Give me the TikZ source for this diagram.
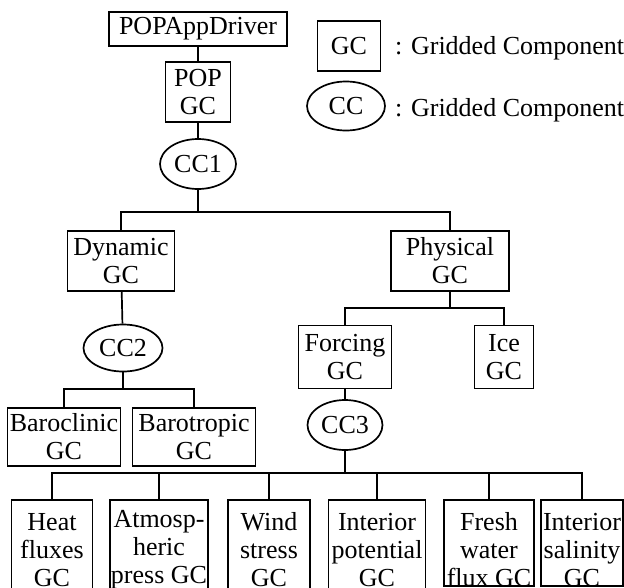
\documentclass[tikz,border=0pt]{standalone}
\usepackage{fontspec}
\setmainfont{Liberation Serif}
\usetikzlibrary{shapes.geometric}
\begin{document}
\begin{tikzpicture}[x=1pt,y=-1pt,
  every node/.style={font=\fontsize{26}{28}\selectfont, align=center, inner sep=0pt},
  gcbox/.style={draw, line width=1.7pt, rectangle},
  ccell/.style={draw, line width=1.7pt, ellipse},
  txtbox/.style={rectangle},
  conn/.style={line width=1.7pt},
  thickconn/.style={line width=2.6pt}]
\useasboundingbox (0,0) rectangle (624,587);
\clip (0,0) rectangle (624,587);

% top
\node[gcbox, minimum width=178pt, minimum height=34pt] (drv) at (198,29) {POPAppDriver};
\node[gcbox, minimum width=65pt, minimum height=60pt] (pop) at (198,92) {POP\\GC};
\node[ccell, minimum width=76pt, minimum height=50pt] (cc1) at (198,164) {CC1};

% legend
\node[gcbox, minimum width=63pt, minimum height=50pt] (lgc) at (349,46) {GC};
\node[anchor=base west] (lgct) at (395,54) {: Gridded Component};
\node[ccell, minimum width=78pt, minimum height=49pt] (lcc) at (346,106) {CC};
\node[anchor=base west] (lcct) at (395,116) {: Gridded Component};

% second level
\node[gcbox, minimum width=107pt, minimum height=60pt] (dyn) at (121,261) {Dynamic\\GC};
\node[gcbox, minimum width=118pt, minimum height=60pt] (phy) at (450,261) {Physical\\GC};
\node[ccell, minimum width=79pt, minimum height=47pt] (cc2) at (123,348) {CC2};
\node[gcbox, minimum width=113pt, minimum height=58pt] (bcl) at (64,437) {Baroclinic\\GC};
\node[gcbox, minimum width=123pt, minimum height=58pt] (btr) at (194,437) {Barotropic\\GC};
\node[gcbox, minimum width=93pt, minimum height=63pt] (forc) at (345,357) {Forcing\\GC};
\node[gcbox, minimum width=59pt, minimum height=63pt] (ice) at (504,357) {Ice\\GC};
\node[ccell, minimum width=75pt, minimum height=50pt] (cc3) at (345,425) {CC3};

% bottom row
\node[gcbox, minimum width=81pt, minimum height=100pt] (heat) at (52,550) {Heat\\fluxes\\GC};
\node[gcbox, minimum width=98pt, minimum height=100pt] (atm) at (159,550) {Atmosp-\\heric\\press GC};
\node[gcbox, minimum width=82pt, minimum height=100pt] (wind) at (269,550) {Wind\\stress\\GC};
\node[gcbox, minimum width=97pt, minimum height=100pt] (ipot) at (377,550) {Interior\\potential\\GC};
\node[txtbox, minimum width=90pt, minimum height=100pt] (fresh) at (489,550) {Fresh\\water\\flux GC};
\node[txtbox, minimum width=82pt, minimum height=100pt] (sal) at (582,550) {Interior\\salinity\\GC};
\draw[conn] (fresh.north west) rectangle ([yshift=14pt]fresh.south east);
\draw[conn] (sal.north west) rectangle ([yshift=14pt]sal.south east);

% connectors
\coordinate (b1) at (198,212);
\coordinate (b2) at (123,389);
\coordinate (b3) at (450,308);
\coordinate (b4) at (345,473);
\draw[conn] (drv) -- (pop);
\draw[conn] (pop) -- (cc1);
\draw[conn] (cc1.south) -- (b1);
\draw[conn] (dyn.north) |- (b1) -| (phy.north);
\draw[conn] (dyn) -- (cc2);
\draw[conn] (cc2.south) -- (b2);
\draw[conn] (bcl.north) |- (b2) -| (btr.north);
\draw[conn] (phy.south) -- (b3);
\draw[conn] (forc.north) |- (b3) -| (ice.north);
\draw[conn] (forc) -- (cc3);
\draw[thickconn] (cc3.south) -- (b4);
\draw[conn] (heat.north) |- (b4) -| (sal.north);
\draw[conn] (atm.north) -- (atm.north |- b4);
\draw[conn] (wind.north) -- (wind.north |- b4);
\draw[conn] (ipot.north) -- (ipot.north |- b4);
\draw[conn] (fresh.north) -- (fresh.north |- b4);
\end{tikzpicture}
\end{document}
